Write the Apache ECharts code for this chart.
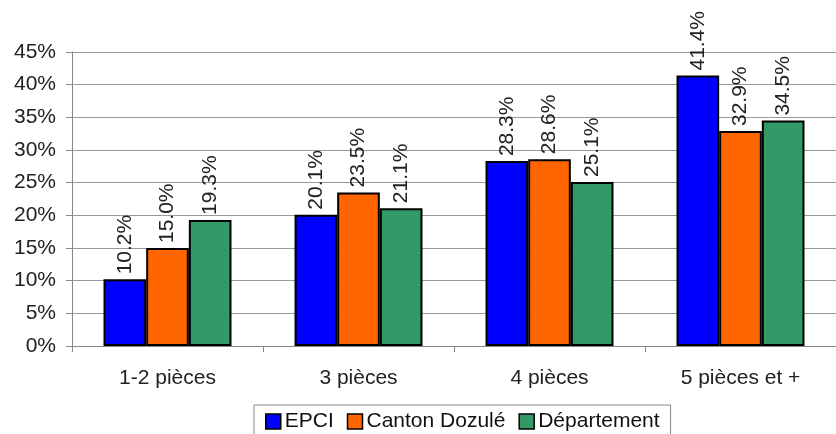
<!DOCTYPE html>
<html>
<head>
<meta charset="utf-8">
<script src="https://cdn.jsdelivr.net/npm/echarts@6/dist/echarts.min.js"></script>
<style>
  html, body { margin: 0; padding: 0; background: #fff; }
  #chart { width: 836px; height: 434px; }
</style>
</head>
<body>
<div id="chart"></div>
<script>
// catégories et séries (en %)
const categories = ['1-2 pièces', '3 pièces', '4 pièces', '5 pièces et +'];
const epci = [10.2, 20.1, 28.3, 41.4];
const canton = [15.0, 23.5, 28.6, 32.9];
const departement = [19.3, 21.1, 25.1, 34.5];

const FONT = 'Liberation Sans, Arial';

const chart = echarts.init(document.getElementById('chart'));

function makeSeries(name, data, color) {
    return {
        name: name,
        type: 'bar',
        data: data,
        barCategoryGap: '33%',
        barGap: '0%',
        itemStyle: { color: color, borderColor: '#000', borderWidth: 2 },
        label: {
            show: true,
            position: 'top',
            rotate: 90,
            align: 'left',
            verticalAlign: 'middle',
            distance: 5,
            color: '#222',
            fontSize: 21,
            fontFamily: FONT,
            formatter: p => p.value.toFixed(1) + '%'
        }
    };
}

const option = {
    animation: false,
    grid: { left: 72, top: 52, width: 772, bottom: 88, containLabel: false },
    legend: {
        top: 405,
        left: 254,
        icon: 'rect',
        itemWidth: 15,
        itemHeight: 15,
        itemGap: 13,
        padding: [6, 11, 20, 11],
        borderColor: '#888',
        borderWidth: 1,
        textStyle: { fontSize: 21, color: '#111', fontFamily: FONT, padding: [0, 0, 0, -1] },
        data: [
            { name: 'EPCI', itemStyle: { borderColor: '#000', borderWidth: 1.5 } },
            { name: 'Canton Dozulé', itemStyle: { borderColor: '#000', borderWidth: 1.5 } },
            { name: 'Département', itemStyle: { borderColor: '#000', borderWidth: 1.5 } }
        ]
    },
    xAxis: {
        type: 'category',
        data: categories,
        axisLine: { lineStyle: { color: '#888', width: 1 } },
        axisTick: { show: true, alignWithLabel: false, length: 6, lineStyle: { color: '#888' } },
        axisLabel: { fontSize: 21, color: '#222', margin: 22, fontFamily: FONT }
    },
    yAxis: {
        type: 'value',
        min: 0,
        max: 45,
        interval: 5,
        axisLine: { show: true, lineStyle: { color: '#888', width: 1 } },
        axisTick: { show: true, length: 6, lineStyle: { color: '#888' } },
        splitLine: { lineStyle: { color: '#999', width: 1 } },
        axisLabel: {
            fontSize: 21, color: '#222', margin: 16, fontFamily: FONT,
            formatter: v => v + '%'
        }
    },
    series: [
        makeSeries('EPCI', epci, '#0000FF'),
        makeSeries('Canton Dozulé', canton, '#FF6600'),
        makeSeries('Département', departement, '#339966')
    ]
};

chart.setOption(option);
</script>
</body>
</html>
